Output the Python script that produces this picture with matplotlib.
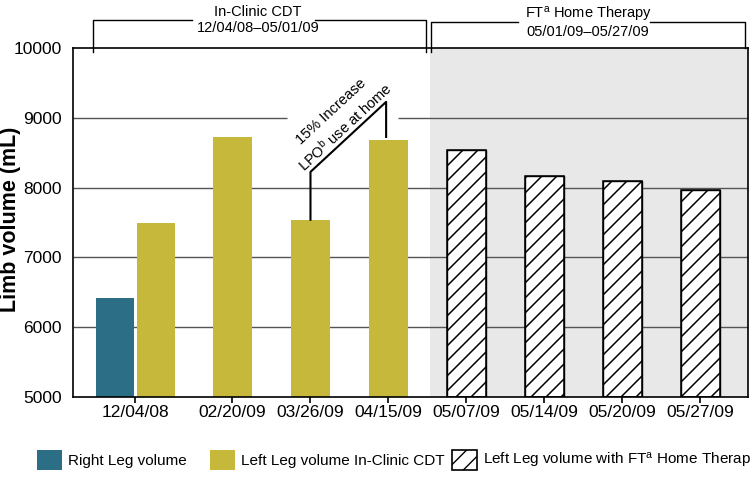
import matplotlib
matplotlib.use("Agg")
import matplotlib.pyplot as plt
from matplotlib.patches import Patch
import numpy as np

plt.rcParams['font.family'] = ['Liberation Sans', 'DejaVu Sans']
plt.rcParams['mathtext.fontset'] = 'custom'
plt.rcParams['mathtext.rm'] = 'Liberation Sans'
plt.rcParams['mathtext.it'] = 'Liberation Sans'
plt.rcParams['hatch.linewidth'] = 1.0

# ---- data ----
dates = ['12/04/08', '02/20/09', '03/26/09', '04/15/09',
         '05/07/09', '05/14/09', '05/20/09', '05/27/09']
right_leg = [6420]                        # 12/04/08 only
left_clinic = [7490, 8720, 7540, 8680]    # 12/04/08 .. 04/15/09
left_home = [8540, 8160, 8100, 7970]      # 05/07/09 .. 05/27/09
yticks = [5000, 6000, 7000, 8000, 9000, 10000]

teal = '#2b6e86'
olive = '#c6b83b'
shade = '#e7e8e7'
gridc = '#555555'

xpos = np.array([0, 1.25, 2.25, 3.25, 4.25, 5.25, 6.25, 7.25])
w = 0.49

fig = plt.figure(figsize=(7.5, 4.82), dpi=100)
ax = fig.add_axes([73/750, 1-397/482, 675/750, 349/482])
xl = (-0.795, 7.86)
ax.set_xlim(*xl)
ax.set_ylim(5000, 10000)

# shaded home therapy region
ax.axvspan(3.78, xl[1], color=shade, zorder=0, lw=0)

# gridlines (9000 line broken by annotation)
for v in yticks[1:-1]:
    if v == 9000:
        ax.hlines(v, xl[0], xpos[2]-0.3, color=gridc, lw=1, zorder=1)
        ax.hlines(v, xpos[3]+0.12, xl[1], color=gridc, lw=1, zorder=1)
    else:
        ax.hlines(v, xl[0], xl[1], color=gridc, lw=1, zorder=1)

# bars
ax.bar(xpos[0]-0.26, right_leg[0]-5000, bottom=5000, width=w, color=teal, zorder=2)
clin_x = np.concatenate([[xpos[0]+0.27], xpos[1:4]])
ax.bar(clin_x, np.array(left_clinic)-5000, bottom=5000, width=w, color=olive, zorder=2)
home_bars = ax.bar(xpos[4:8], np.array(left_home)-5000, bottom=5000, width=w,
                   facecolor='white', edgecolor='black', lw=1, zorder=2)

# manual diagonal hatching (45 deg in pixel space, ~15 px spacing)
inv = ax.transData.inverted()
sp = 15.0
for r in home_bars:
    x0, y0 = r.get_x(), r.get_y()
    x1, y1 = x0 + r.get_width(), y0 + r.get_height()
    (dx0, dy0), (dx1, dy1) = ax.transData.transform([(x0, y0), (x1, y1)])
    # lines: y - x = c
    cmin = dy0 - dx1
    cmax = dy1 - dx0
    c = cmin - (cmin % sp) + 4
    while c <= cmax:
        pts = np.array([[dx0 - 2, dx0 - 2 + c], [dx1 + 2, dx1 + 2 + c]])
        dp = inv.transform(pts)
        ln, = ax.plot(dp[:, 0], dp[:, 1], color='black', lw=1.1, zorder=2.5)
        ln.set_clip_path(r)
        c += sp
    ax.bar(r.get_x() + r.get_width()/2, r.get_height(), bottom=r.get_y(), width=w,
           facecolor='none', edgecolor='black', lw=1.1, zorder=2.6)

# axes styling
for s in ax.spines.values():
    s.set_color('black')
    s.set_linewidth(1.2)
ax.set_xticks(xpos)
ax.set_xticklabels(dates, fontsize=12.5)
ax.set_yticks(yticks)
ax.set_yticklabels([str(v) for v in yticks], fontsize=12.5)
ax.tick_params(axis='x', direction='out', length=4, width=1.2, pad=2, color='black')
ax.tick_params(axis='y', length=0, pad=8)
ax.set_ylabel('Limb volume (mL)', fontsize=15.5, fontweight='bold', va='center')
ax.yaxis.set_label_coords(-0.092, 0.51)

# top brackets
def bracket(x0, x1, ytop, yl, yr, gap0, gap1):
    ax.plot([x0, x0, gap0], [yl, ytop, ytop], color='black', lw=1, clip_on=False)
    ax.plot([gap1, x1, x1], [ytop, ytop, yr], color='black', lw=1, clip_on=False)

bracket(xpos[0]-0.54, xpos[3]+0.48, 10401, 9943, 9943, 0.73, 2.31)
bracket(xpos[4]-0.455, xpos[7]+0.57, 10372, 9943, 10000, 4.91, 6.60)
ax.text(1.577, 10516, 'In-Clinic CDT', ha='center', va='center', fontsize=10.5, clip_on=False)
ax.text(1.577, 10287, '12/04/08\u201305/01/09', ha='center', va='center', fontsize=10.5, clip_on=False)
ax.text(5.808, 10473, 'FT$^{\\mathrm{a}}$ Home Therapy', ha='center', va='center', fontsize=10.5, clip_on=False)
ax.text(5.808, 10229, '05/01/09\u201305/27/09', ha='center', va='center', fontsize=10.5, clip_on=False)

# annotation bracket
p0 = (xpos[2], left_clinic[2])
p1 = (xpos[2], 8225)
p2 = (xpos[3]-0.03, 9228)
p3 = (xpos[3]-0.03, left_clinic[3]+45)
ax.plot([p0[0], p1[0], p2[0], p3[0]], [p0[1], p1[1], p2[1], p3[1]], color='black', lw=1.5, zorder=3)
d1 = ax.transData.transform(p1)
d2 = ax.transData.transform(p2)
ang = np.degrees(np.arctan2(d2[1]-d1[1], d2[0]-d1[0]))
mid = (p1[0] + 0.54*(p2[0]-p1[0]), p1[1] + 0.54*(p2[1]-p1[1]))
ur = np.radians(ang)
nrm = np.array([-np.sin(ur), np.cos(ur)])
for txt, off in [('15% Increase', 30), ('LPO$^{\\mathrm{b}}$ use at home', 10)]:
    o = nrm*off*0.72
    ax.annotate(txt, xy=mid, xytext=(o[0], o[1]), textcoords='offset points',
                ha='center', va='center', rotation=ang, rotation_mode='anchor', fontsize=10.5)

# legend
hs = [Patch(facecolor=teal, edgecolor='none'),
      Patch(facecolor=olive, edgecolor='none'),
      Patch(facecolor='white', edgecolor='black', hatch='//', lw=1.2)]
labels = ['Right Leg volume', 'Left Leg volume In-Clinic CDT',
          'Left Leg volume with FT$^{\\mathrm{a}}$ Home Therapy']
xs = [37/750, 210/750, 452/750]
for h, lab, x in zip(hs, labels, xs):
    fig.legend([h], [lab], loc='center left', bbox_to_anchor=(x, 1-460/482), frameon=False,
               fontsize=11, handlelength=1.65, handleheight=1.7, handletextpad=0.35,
               borderpad=0, borderaxespad=0)

fig.savefig('out.png', dpi=100)
